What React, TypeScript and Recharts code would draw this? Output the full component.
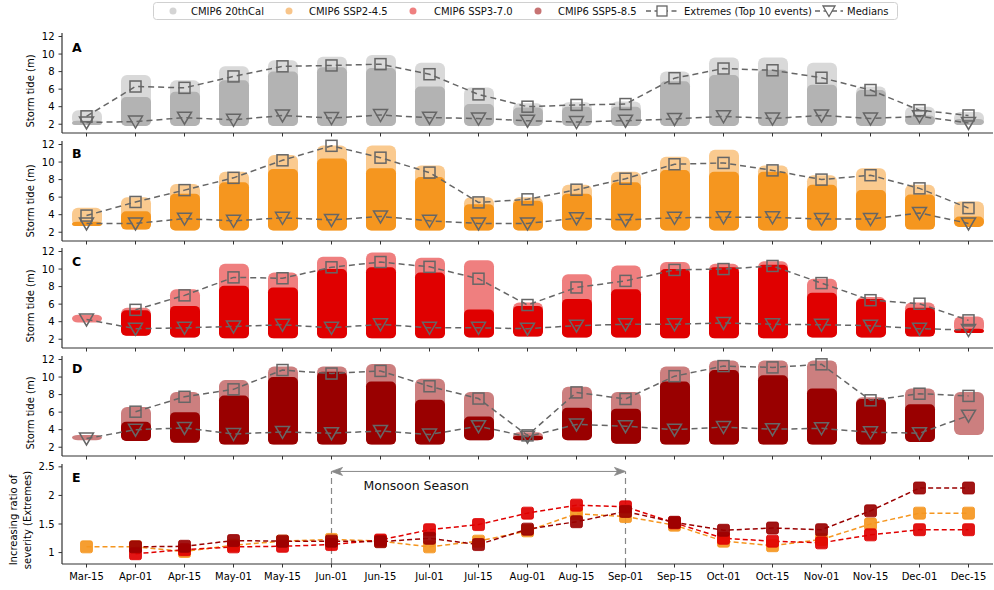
import React from 'react';
import { ComposedChart, XAxis, YAxis, Bar, Line, ReferenceLine } from 'recharts';

const FONT = 'DejaVu Sans, Verdana, sans-serif';

const CATS = ['Mar-15', 'Apr-01', 'Apr-15', 'May-01', 'May-15', 'Jun-01', 'Jun-15', 'Jul-01', 'Jul-15', 'Aug-01', 'Aug-15', 'Sep-01', 'Sep-15', 'Oct-01', 'Oct-15', 'Nov-01', 'Nov-15', 'Dec-01', 'Dec-15'];

// Panel A: CMIP6 20thCal
const A_LOW = [1.9, 1.8, 1.8, 1.8, 1.8, 1.8, 1.8, 1.8, 1.8, 1.8, 1.8, 1.8, 1.8, 1.8, 1.8, 1.8, 1.8, 1.9, 1.9];
const A_DENSE = [2.4, 5.1, 5.7, 7.0, 8.0, 8.5, 8.4, 6.3, 4.3, 3.9, 4.0, 4.0, 6.9, 7.6, 8.2, 6.5, 5.9, 3.0, 2.6];
const A_MAX = [3.6, 7.6, 7.0, 8.6, 9.3, 9.7, 9.9, 9.0, 6.2, 4.4, 4.5, 4.6, 8.0, 9.6, 9.6, 9.0, 6.3, 4.0, 3.4];
const A_EXT = [2.9, 6.3, 6.15, 7.45, 8.6, 8.7, 8.85, 7.7, 5.4, 4.0, 4.2, 4.3, 7.25, 8.35, 8.15, 7.3, 5.9, 3.6, 3.0];
const A_MED = [2.2, 2.3, 2.75, 2.5, 3.0, 2.7, 3.05, 2.75, 2.65, 2.4, 2.25, 2.4, 2.6, 2.9, 2.65, 3.0, 2.65, 2.9, 2.15];

// Panel B: CMIP6 SSP2-4.5
const B_LOW = [2.7, 2.3, 2.2, 2.2, 2.2, 2.2, 2.2, 2.2, 2.2, 2.2, 2.2, 2.2, 2.2, 2.2, 2.2, 2.2, 2.2, 2.3, 2.6];
const B_DENSE = [3.2, 4.4, 6.4, 7.7, 9.2, 10.4, 9.3, 8.3, 5.2, 5.6, 6.4, 7.7, 9.1, 8.9, 8.9, 7.4, 6.8, 6.3, 3.8];
const B_MAX = [4.8, 6.0, 7.5, 8.9, 10.8, 11.9, 11.9, 9.6, 6.0, 6.0, 7.4, 8.9, 10.6, 11.4, 9.6, 8.5, 9.3, 7.4, 5.5];
const B_EXT = [3.9, 5.45, 6.8, 8.2, 10.2, 11.85, 10.5, 8.8, 5.4, 5.75, 6.85, 8.1, 9.75, 9.9, 9.05, 8.0, 8.5, 7.0, 4.75];
const B_MED = [3.0, 3.0, 3.55, 3.3, 3.65, 3.4, 3.8, 3.3, 3.0, 3.0, 3.6, 3.4, 3.65, 3.7, 3.7, 3.5, 3.5, 4.2, 3.0];

// Panel C: CMIP6 SSP3-7.0
const C_LOW = [3.9, 2.4, 2.2, 2.1, 2.1, 2.1, 2.1, 2.1, 2.2, 2.3, 2.2, 2.2, 2.1, 2.1, 2.1, 2.2, 2.2, 2.3, 2.7];
const C_DENSE = [3.9, 5.3, 5.8, 8.1, 7.9, 10.0, 10.2, 9.6, 5.4, 5.8, 6.6, 7.7, 10.0, 10.2, 10.5, 7.3, 6.6, 5.6, 3.2];
const C_MAX = [4.8, 5.6, 7.7, 10.6, 9.6, 11.4, 11.9, 11.3, 11.0, 6.2, 9.4, 10.4, 10.8, 10.6, 10.9, 8.9, 6.8, 6.2, 4.6];
const C_EXT = [null, 5.35, 7.0, 9.05, 8.95, 10.2, 10.8, 10.25, 8.9, 5.9, 7.9, 8.65, 9.9, 10.0, 10.35, 8.4, 6.45, 6.05, 4.15];
const C_MED = [4.25, 3.2, 3.3, 3.45, 3.65, 3.3, 3.7, 3.3, 3.3, 3.2, 3.55, 3.7, 3.7, 3.85, 3.7, 3.65, 3.55, 3.2, 3.05];

// Panel D: CMIP6 SSP5-8.5
const D_LOW = [2.8, 2.7, 2.5, 2.3, 2.3, 2.3, 2.3, 2.3, 2.8, 2.8, 2.8, 2.4, 2.3, 2.3, 2.3, 2.3, 2.3, 2.6, 3.4];
const D_DENSE = [2.8, 4.9, 6.0, 7.9, 10.0, 10.6, 9.5, 7.4, 5.5, 3.3, 6.5, 6.4, 9.5, 10.8, 10.2, 8.7, 7.5, 6.9, 3.4];
const D_MAX = [3.4, 6.6, 8.3, 9.65, 11.2, 11.2, 11.5, 9.8, 8.3, 3.7, 8.9, 8.3, 11.2, 11.9, 11.9, 11.9, 7.7, 8.7, 8.3];
const D_EXT = [null, 6.05, 7.75, 8.6, 10.8, 10.4, 10.7, 8.95, 7.55, 3.35, 8.25, 7.5, 10.1, 11.25, 11.1, 11.45, 7.35, 8.1, 7.85];
const D_MED = [3.0, 4.0, 4.2, 3.5, 3.75, 3.6, 3.85, 3.45, 4.4, 3.2, 4.6, 4.4, 4.0, 4.3, 4.05, 4.15, 3.7, 3.6, 5.6];

// Panel E: increasing ratio of severity (extremes)
const E_SSP245 = [1.1, 1.1, 1.02, 1.13, 1.2, 1.23, 1.2, 1.1, 1.2, 1.38, 1.68, 1.63, 1.48, 1.2, 1.12, 1.23, 1.5, 1.69, 1.69];
const E_SSP370 = [null, 0.98, 1.05, 1.1, 1.11, 1.14, 1.22, 1.4, 1.49, 1.69, 1.83, 1.8, 1.52, 1.25, 1.2, 1.17, 1.31, 1.4, 1.4];
const E_SSP585 = [null, 1.1, 1.11, 1.21, 1.2, 1.2, 1.19, 1.25, 1.14, 1.41, 1.54, 1.72, 1.53, 1.39, 1.43, 1.4, 1.73, 2.13, 2.13];

const STORM_TICKS = [2, 4, 6, 8, 10, 12];
const RATIO_TICKS = [1, 1.5, 2, 2.5];

const GRAY = '#b3b3b3';
const ORANGE = '#f5961f';
const RED = '#e00000';
const DARKRED = '#990000';
const MARK = '#666666';
const AXIS = '#333333';

const buildRows = (low, dense, max, ext, med) =>
  CATS.map((cat, i) => ({ cat, range: [low[i], max[i]], low: low[i], dense: dense[i], max: max[i], ext: ext[i], med: med[i] }));

const ROWS_A = buildRows(A_LOW, A_DENSE, A_MAX, A_EXT, A_MED);
const ROWS_B = buildRows(B_LOW, B_DENSE, B_MAX, B_EXT, B_MED);
const ROWS_C = buildRows(C_LOW, C_DENSE, C_MAX, C_EXT, C_MED);
const ROWS_D = buildRows(D_LOW, D_DENSE, D_MAX, D_EXT, D_MED);
const ROWS_E = CATS.map((cat, i) => ({ cat, s245: E_SSP245[i], s370: E_SSP370[i], s585: E_SSP585[i] }));

const cloudShape = (color) => (props) => {
  const { x, y, width, height, payload } = props;
  if (x == null || y == null || !payload) return null;
  const top = Math.min(y, y + height);
  const h = Math.abs(height);
  const span = payload.max - payload.low;
  const px = span > 0 ? h / span : 0;
  const dh = (payload.dense - payload.low) * px;
  const bottom = top + h;
  return (
    <g>
      <rect x={x} y={top} width={width} height={h} rx={6} ry={6} fill={color} fillOpacity={0.5} />
      {dh > 0 ? <rect x={x} y={bottom - dh} width={width} height={dh} rx={5} ry={5} fill={color} /> : null}
    </g>
  );
};

const SquareDot = (props) => {
  const { cx, cy, value, index } = props;
  if (value == null || cx == null || cy == null) return <g key={'s' + index} />;
  return <rect key={'s' + index} x={cx - 5.5} y={cy - 5.5} width={11} height={11} fill="none" stroke={MARK} strokeWidth={1.5} />;
};

const TriDot = (props) => {
  const { cx, cy, value, index } = props;
  if (value == null || cx == null || cy == null) return <g key={'t' + index} />;
  return (
    <path
      key={'t' + index}
      d={`M${cx - 7},${cy - 5.5} L${cx + 7},${cy - 5.5} L${cx},${cy + 6.5} Z`}
      fill="none"
      stroke={MARK}
      strokeWidth={1.5}
      strokeLinejoin="miter"
    />
  );
};

const filledSquare = (color) => (props) => {
  const { cx, cy, value, index } = props;
  if (value == null || cx == null || cy == null) return <g key={'f' + index} />;
  return <rect key={'f' + index} x={cx - 6} y={cy - 6} width={12} height={12} rx={2} ry={2} fill={color} fillOpacity={0.92} stroke={color} strokeWidth={0.8} />;
};

const ArrowShape = (props) => {
  const { x1, y1, x2, y2 } = props;
  if (x1 == null) return null;
  const c = '#888888';
  return (
    <g>
      <line x1={x1 + 2} y1={y1} x2={x2 - 2} y2={y2} stroke={c} strokeWidth={1} />
      <path d={`M${x1},${y1} L${x1 + 11},${y1 - 4} L${x1 + 8},${y1} L${x1 + 11},${y1 + 4} Z`} fill={c} stroke={c} strokeWidth={0.8} />
      <path d={`M${x2},${y2} L${x2 - 11},${y2 - 4} L${x2 - 8},${y2} L${x2 - 11},${y2 + 4} Z`} fill={c} stroke={c} strokeWidth={0.8} />
      <text x={x1 + 32} y={y1 + 19} fontSize={12.5} fontFamily={FONT} fill="#111">Monsoon Season</text>
    </g>
  );
};

const StormPanel = ({ rows, color, top }) => (
  <div style={{ position: 'absolute', left: 0, top: top - 4 }}>
    <ComposedChart width={994} height={112} data={rows} margin={{ top: 4, right: 1, bottom: 0, left: 0 }}>
      <XAxis
        dataKey="cat"
        interval={0}
        height={8}
        tickSize={3.5}
        tickFormatter={() => ''}
        axisLine={{ stroke: AXIS, strokeWidth: 1.2 }}
        tickLine={{ stroke: AXIS }}
      />
      <YAxis
        type="number"
        width={62}
        domain={[1, 12.4]}
        ticks={STORM_TICKS}
        tickSize={3.5}
        tickMargin={4}
        tick={{ fontSize: 10, fill: '#000', fontFamily: FONT }}
        axisLine={{ stroke: AXIS, strokeWidth: 1.2 }}
        tickLine={{ stroke: AXIS }}
      />
      <Bar dataKey="range" barSize={30} shape={cloudShape(color)} isAnimationActive={false} />
      <Line dataKey="med" stroke={MARK} strokeWidth={1.5} strokeDasharray="6 4" dot={TriDot} activeDot={false} isAnimationActive={false} />
      <Line dataKey="ext" stroke={MARK} strokeWidth={1.5} strokeDasharray="6 4" dot={SquareDot} activeDot={false} isAnimationActive={false} />
    </ComposedChart>
  </div>
);

const RatioPanel = () => (
  <div style={{ position: 'absolute', left: 0, top: 460 }}>
    <ComposedChart width={994} height={130} data={ROWS_E} margin={{ top: 4, right: 1, bottom: 0, left: 0 }}>
      <XAxis
        dataKey="cat"
        interval={0}
        height={26}
        padding={{ left: 24.5, right: 24.5 }}
        tickSize={3.5}
        tickMargin={5}
        tick={{ fontSize: 10, fill: '#000', fontFamily: FONT }}
        axisLine={{ stroke: AXIS, strokeWidth: 1.2 }}
        tickLine={{ stroke: AXIS }}
      />
      <YAxis
        type="number"
        width={62}
        domain={[0.8, 2.55]}
        ticks={RATIO_TICKS}
        tickSize={3.5}
        tickMargin={4}
        tick={{ fontSize: 10, fill: '#000', fontFamily: FONT }}
        axisLine={{ stroke: AXIS, strokeWidth: 1.2 }}
        tickLine={{ stroke: AXIS }}
      />
      <ReferenceLine segment={[{ x: 'Jun-01', y: 0.8 }, { x: 'Jun-01', y: 2.42 }]} stroke="#888" strokeWidth={1.2} strokeDasharray="6 4" />
      <ReferenceLine segment={[{ x: 'Sep-01', y: 0.8 }, { x: 'Sep-01', y: 2.42 }]} stroke="#888" strokeWidth={1.2} strokeDasharray="6 4" />
      <ReferenceLine segment={[{ x: 'Jun-01', y: 2.42 }, { x: 'Sep-01', y: 2.42 }]} shape={ArrowShape} />
      <Line dataKey="s245" stroke={ORANGE} strokeWidth={1.5} strokeDasharray="5 3" dot={filledSquare(ORANGE)} activeDot={false} isAnimationActive={false} />
      <Line dataKey="s370" stroke={RED} strokeWidth={1.5} strokeDasharray="5 3" dot={filledSquare(RED)} activeDot={false} isAnimationActive={false} />
      <Line dataKey="s585" stroke={DARKRED} strokeWidth={1.5} strokeDasharray="5 3" dot={filledSquare(DARKRED)} activeDot={false} isAnimationActive={false} />
    </ComposedChart>
  </div>
);

const LEGEND_ITEMS = [
  { kind: 'dot', color: '#d4d4d4', x: 173, tx: 191, label: 'CMIP6 20thCal' },
  { kind: 'dot', color: '#f8c58a', x: 289, tx: 309, label: 'CMIP6 SSP2-4.5' },
  { kind: 'dot', color: '#ef8080', x: 413, tx: 434, label: 'CMIP6 SSP3-7.0' },
  { kind: 'dot', color: '#c77373', x: 538, tx: 558, label: 'CMIP6 SSP5-8.5' },
  { kind: 'sq', color: MARK, x: 662, tx: 684, label: 'Extremes (Top 10 events)' },
  { kind: 'tri', color: MARK, x: 829, tx: 847, label: 'Medians' },
];

const Overlay = () => {
  const cy = 11;
  return (
    <svg width={994} height={590} style={{ position: 'absolute', left: 0, top: 0, pointerEvents: 'none' }}>
      <rect x={153.5} y={2.5} width={744} height={17} rx={3} fill="#fff" fillOpacity={0.9} stroke="#d0d0d0" strokeWidth={1} />
      {LEGEND_ITEMS.map((it) => (
        <g key={it.label}>
          {it.kind === 'dot' ? <circle cx={it.x} cy={cy} r={3.5} fill={it.color} /> : null}
          {it.kind === 'sq' ? (
            <g>
              <line x1={it.x - 16} y1={cy} x2={it.x + 16} y2={cy} stroke={MARK} strokeWidth={1.5} strokeDasharray="5 3.5" />
              <rect x={it.x - 5} y={cy - 5} width={10} height={10} fill="#fff" stroke={MARK} strokeWidth={1.3} />
            </g>
          ) : null}
          {it.kind === 'tri' ? (
            <g>
              <line x1={it.x - 14} y1={cy} x2={it.x + 14} y2={cy} stroke={MARK} strokeWidth={1.5} strokeDasharray="5 3.5" />
              <path d={`M${it.x - 6},${cy - 5} L${it.x + 6},${cy - 5} L${it.x},${cy + 5.5} Z`} fill="#fff" stroke={MARK} strokeWidth={1.3} />
            </g>
          ) : null}
          <text x={it.tx} y={cy + 3.6} fontSize={10} fontFamily={FONT} fill="#111">{it.label}</text>
        </g>
      ))}
      {[
        ['A', 51.7],
        ['B', 158.3],
        ['C', 266],
        ['D', 373.3],
        ['E', 481.7],
      ].map(([l, y]) => (
        <text key={l as string} x={72} y={y as number} fontSize={12.5} fontWeight="bold" fontFamily={FONT} fill="#000">{l}</text>
      ))}
      {[91, 201, 306, 413].map((c) => (
        <text key={c} transform={`rotate(-90 34 ${c})`} x={34} y={c} textAnchor="middle" fontSize={10} fontFamily={FONT} fill="#000">Storm tide (m)</text>
      ))}
      <text transform="rotate(-90 17 520)" x={17} y={520} textAnchor="middle" fontSize={10} fontFamily={FONT} fill="#000">Increasing ratio of</text>
      <text transform="rotate(-90 31 520)" x={31} y={520} textAnchor="middle" fontSize={10} fontFamily={FONT} fill="#000">severity (Extremes)</text>
    </svg>
  );
};

export default function App() {
  return (
    <div style={{ position: 'absolute', left: 0, top: 0, width: 994, height: 590, background: '#fff', fontFamily: FONT }}>
      <StormPanel rows={ROWS_A} color={GRAY} top={33.1} />
      <StormPanel rows={ROWS_B} color={ORANGE} top={140.7} />
      <StormPanel rows={ROWS_C} color={RED} top={248.4} />
      <StormPanel rows={ROWS_D} color={DARKRED} top={356.1} />
      <RatioPanel />
      <Overlay />
    </div>
  );
}
